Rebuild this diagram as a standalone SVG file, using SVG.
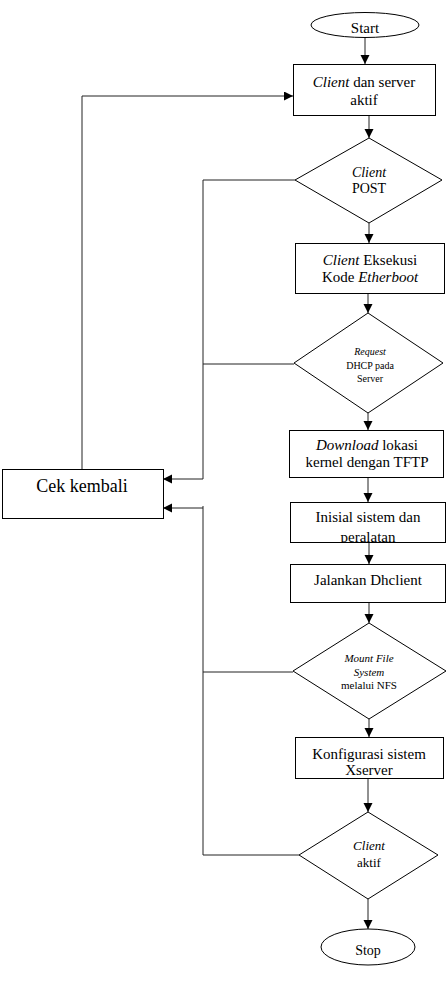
<svg xmlns="http://www.w3.org/2000/svg" width="448" height="997" viewBox="0 0 448 997">
<style>
.s{fill:#fff;stroke:#000;stroke-width:1}
.t{font-family:"Liberation Serif","Times New Roman",serif;fill:#000;text-anchor:middle}
.i{font-style:italic}
.c{fill:none;stroke:#222;stroke-width:1}
</style>
<defs>
<marker id="a" markerUnits="userSpaceOnUse" markerWidth="10" markerHeight="10" refX="9" refY="4.5" orient="auto">
<path d="M0,0 L9,4.5 L0,9 Z" fill="#000"/>
</marker>
<clipPath id="cb4"><rect x="290.5" y="502.5" width="155" height="40"/></clipPath>
</defs>
<rect width="448" height="997" fill="#fff"/>
<g id="connectors">
<path class="c" d="M365,37 V64" marker-end="url(#a)"/>
<path class="c" d="M369,115 V138" marker-end="url(#a)"/>
<path class="c" d="M369,223 V243" marker-end="url(#a)"/>
<path class="c" d="M368,293 V313" marker-end="url(#a)"/>
<path class="c" d="M368,413 V430" marker-end="url(#a)"/>
<path class="c" d="M368,477 V502" marker-end="url(#a)"/>
<path class="c" d="M369,543 V564" marker-end="url(#a)"/>
<path class="c" d="M369,602 V623" marker-end="url(#a)"/>
<path class="c" d="M369,719 V737" marker-end="url(#a)"/>
<path class="c" d="M368,778 V812" marker-end="url(#a)"/>
<path class="c" d="M368,899 V929" marker-end="url(#a)"/>
<path class="c" d="M82,469 V96 H293" marker-end="url(#a)"/>
<path class="c" d="M295,180 H203 V479 H163" marker-end="url(#a)"/>
<path class="c" d="M294,364 H203"/>
<path class="c" d="M203,855 V506"/>
<path class="c" d="M203,508 H163" marker-end="url(#a)"/>
<path class="c" d="M293,672 H203"/>
<path class="c" d="M299,855 H203"/>
</g>
<g id="start"><ellipse class="s" cx="365" cy="25" rx="54" ry="12.5"/><text class="t" x="365" y="33" font-size="15">Start</text></g>
<g id="box1"><rect class="s" x="293.5" y="64.5" width="142" height="51"/><text class="t" x="364" y="87" font-size="15"><tspan class="i">Client</tspan> dan server</text><text class="t" x="364" y="105" font-size="15">aktif</text></g>
<g id="d1"><polygon class="s" points="369,138 442,180 369,223 295,180"/><text class="t i" x="369" y="177" font-size="14">Client</text><text class="t" x="369" y="193" font-size="14">POST</text></g>
<g id="box2"><rect class="s" x="295.5" y="243.5" width="149" height="50"/><text class="t" x="370" y="265" font-size="15"><tspan class="i">Client</tspan> Eksekusi</text><text class="t" x="370" y="282" font-size="15">Kode <tspan class="i">Etherboot</tspan></text></g>
<g id="d2"><polygon class="s" points="368,313 443,363 368,413 294,363"/><text class="t i" x="370" y="355" font-size="10">Request</text><text class="t" x="370" y="369" font-size="10">DHCP pada</text><text class="t" x="370" y="382" font-size="10">Server</text></g>
<g id="box3"><rect class="s" x="289.5" y="430.5" width="154" height="47"/><text class="t" x="367" y="450" font-size="15"><tspan class="i">Download</tspan> lokasi</text><text class="t" x="367" y="467" font-size="15">kernel dengan TFTP</text></g>
<g id="box4"><rect class="s" x="290.5" y="502.5" width="155" height="40"/><text class="t" x="368" y="522" font-size="15">Inisial sistem dan</text><text class="t" x="368" y="542" font-size="15" clip-path="url(#cb4)">peralatan</text></g>
<g id="box5"><rect class="s" x="290.5" y="564.5" width="155" height="38"/><text class="t" x="368" y="585" font-size="15">Jalankan Dhclient</text></g>
<g id="d3"><polygon class="s" points="369,623 446,671 369,719 293,671"/><text class="t i" x="369" y="662" font-size="11">Mount File</text><text class="t i" x="369" y="676" font-size="11">System</text><text class="t" x="369" y="689" font-size="11">melalui NFS</text></g>
<g id="box6"><rect class="s" x="295.5" y="737.5" width="148" height="41"/><text class="t" x="369" y="759" font-size="15">Konfigurasi sistem</text><text class="t" x="369" y="775" font-size="15">Xserver</text></g>
<g id="d4"><polygon class="s" points="368,812 438,855 368,899 299,855"/><text class="t i" x="369" y="850" font-size="13">Client</text><text class="t" x="369" y="867" font-size="13">aktif</text></g>
<g id="stop"><ellipse class="s" cx="368" cy="947" rx="47" ry="18"/><text class="t" x="368" y="955" font-size="14">Stop</text></g>
<g id="cek"><rect class="s" x="2.5" y="469.5" width="161" height="49"/><text class="t" x="82" y="492" font-size="18">Cek kembali</text></g>
</svg>
